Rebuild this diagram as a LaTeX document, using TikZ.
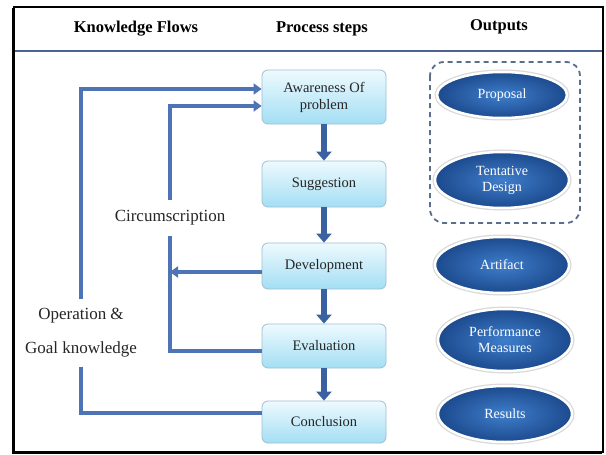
\documentclass[tikz,border=0pt]{standalone}
\usepackage{fontspec}
\setmainfont{Liberation Serif}
\usetikzlibrary{arrows.meta,shapes.geometric}
\definecolor{flowblue}{HTML}{4F74B5}
\definecolor{downblue}{HTML}{3B62A0}
\definecolor{boxtop}{HTML}{EEFAFE}
\definecolor{boxbot}{HTML}{A3DEF4}
\definecolor{boxline}{HTML}{9FBFD0}
\definecolor{ovalin}{HTML}{3F7ECB}
\definecolor{ovalout}{HTML}{1C4A8E}
\definecolor{grpline}{HTML}{5A6E8E}
\definecolor{headline}{HTML}{4C6392}

\begin{document}
\begin{tikzpicture}[x=1pt,y=-1pt,>={Triangle[length=8pt,width=11pt]},
  stepbox/.style={rectangle,rounded corners=6pt,draw=boxline,line width=0.8pt,top color=boxtop,bottom color=boxbot,
    minimum width=124pt,minimum height=46pt,align=center,text=black!85,font=\fontsize{14.5}{17}\selectfont},
  outoval/.style={ellipse,draw=white,line width=2.5pt,inner color=ovalin,outer color=ovalout,
    preaction={draw=black!15,line width=5pt},minimum width=134pt,minimum height=56pt,inner sep=0pt,
    align=center,text=white,font=\fontsize{14}{16}\selectfont},
  flow/.style={flowblue,line width=3.5pt},
  down/.style={downblue,line width=6pt,-{Triangle[length=9pt,width=15pt]}},
  head/.style={font=\fontsize{16.5}{18}\selectfont\bfseries},
  side/.style={font=\fontsize{17}{34}\selectfont,align=center,inner sep=0pt,text=black!85}]
\useasboundingbox (0,0) rectangle (606,455);
\fill[white] (0,0) rectangle (606,455);
% header row
\node[head] (kflow) at (136,29) {Knowledge Flows};
\node[head] (psteps) at (322,29) {Process steps};
\node[head] (outs) at (499,27) {Outputs};
\draw[headline,line width=2pt] (14,51) -- (603,51);
% process steps
\node[stepbox,minimum height=54pt] (aware) at (324,97) {Awareness Of\\problem};
\node[stepbox] (sugg) at (324,184) {Suggestion};
\node[stepbox] (devl) at (324,266) {Development};
\node[stepbox,minimum height=44pt] (eval) at (324,346) {Evaluation};
\node[stepbox,minimum height=42pt] (concl) at (324,422) {Conclusion};
\foreach \a/\b in {aware/sugg,sugg/devl,devl/eval,eval/concl}
  \draw[down] (\a) -- (\b);
% outputs
\node[outoval,minimum width=130pt,minimum height=46pt] (prop) at (502,95) {Proposal};
\node[outoval] (tent) at (502,180) {Tentative\\Design};
\node[outoval] (arti) at (502,265) {Artifact};
\node[outoval,minimum height=62pt] (perf) at (505,340) {Performance\\Measures};
\node[outoval] (res) at (505,414) {Results};
\draw[grpline,line width=1.8pt,dash pattern=on 5pt off 4pt,rounded corners=14pt] (430,62) rectangle (580,223);
% knowledge flows
\node[side,inner ysep=10pt] (circ) at (170,218) {Circumscription};
\node[side,inner ysep=9pt] (opgoal) at (81,333) {Operation \&\\Goal knowledge};
\draw[flow,->] (opgoal.north) |- ([yshift=8pt]aware.west);
\draw[flow] (opgoal.south) |- ([yshift=9pt]concl.west);
\draw[flow,->] (circ.north) |- ([yshift=-9pt]aware.west);
\draw[flow] (circ.south) |- ([yshift=-5pt]eval.west);
\draw[flow,->] ([yshift=-6pt]devl.west) -- ([yshift=-6pt]devl.west -| circ.south);
% frame
\draw[line width=2.5pt] (14,7) rectangle (603,452);
\draw[line width=1.5pt] (13,8) -- (13,453) -- (602,453);
\end{tikzpicture}
\end{document}
